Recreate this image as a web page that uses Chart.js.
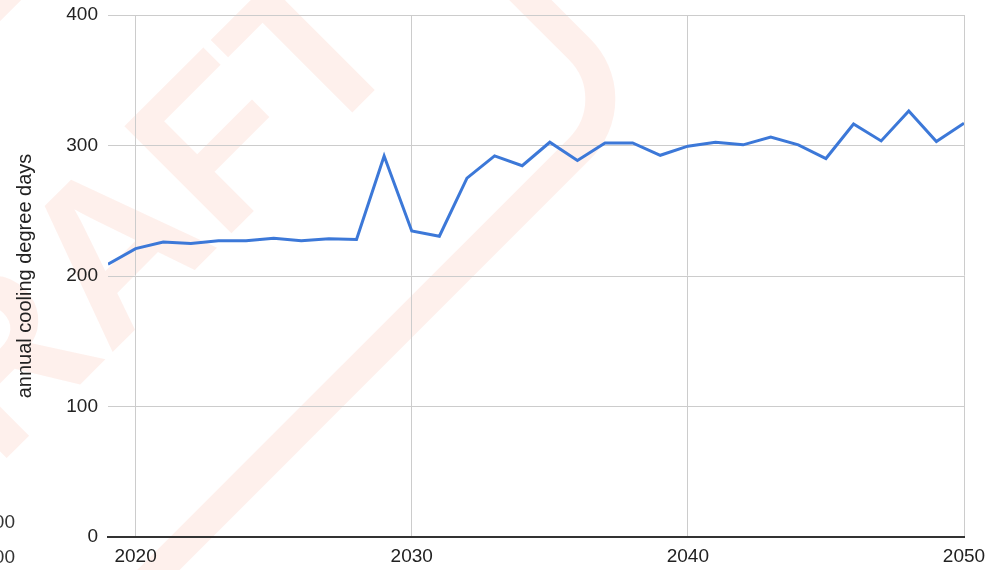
<!DOCTYPE html>
<html lang="en">
<head>
    <meta charset="UTF-8">
    <title>Annual cooling degree days</title>
    <script src="https://cdn.jsdelivr.net/npm/chart.js"></script>
    <style>
        body {
            margin: 0;
            background: #fff;
        }
        #chartBox {
            width: 1007px;
            height: 570px;
        }
    </style>
</head>
<body>
    <div id="chartBox">
        <canvas id="cddChart"></canvas>
    </div>

    <script>
        // yearly series
        const years = [2019, 2020, 2021, 2022, 2023, 2024, 2025, 2026, 2027, 2028,
                       2029, 2030, 2031, 2032, 2033, 2034, 2035, 2036, 2037, 2038,
                       2039, 2040, 2041, 2042, 2043, 2044, 2045, 2046, 2047, 2048,
                       2049, 2050];
        const coolingDegreeDays = [209, 221, 226, 225, 227, 227, 229, 227, 228.5, 228,
                                   292, 234.5, 230.5, 275, 292, 284.5, 302.5, 288.5, 302, 302,
                                   292.5, 299.5, 302.5, 300.5, 306.5, 300.5, 290, 316.5, 303.5, 326.5,
                                   303, 317];
        const yearTicks = [2020, 2030, 2040, 2050];
        const valueTicks = [0, 100, 200, 300, 400];

        const labelFont = { family: 'Arial, "Liberation Sans", sans-serif', size: 19 };

        // faint "DRAFT" stamp behind the plot, plus clipped labels on the left edge
        const stampPlugin = {
            id: 'stamp',
            beforeDraw(chart) {
                const ctx = chart.ctx;
                ctx.save();
                ctx.rotate(-Math.PI / 4);
                ctx.fillStyle = 'rgba(245, 110, 70, 0.10)';
                ctx.strokeStyle = 'rgba(245, 110, 70, 0.10)';
                ctx.font = 'bold 220px Arial, "Liberation Sans", sans-serif';
                ctx.textAlign = 'center';
                ctx.textBaseline = 'middle';
                ctx.fillText('DRAFT', -120, 268);
                ctx.lineWidth = 30;
                ctx.beginPath();
                ctx.roundRect(-700, 0, 1075, 515, 70);
                ctx.stroke();
                ctx.restore();
            },
            afterDraw(chart) {
                const ctx = chart.ctx;
                ctx.save();
                ctx.fillStyle = '#333';
                ctx.font = '19px Arial, "Liberation Sans", sans-serif';
                ctx.textAlign = 'right';
                ctx.textBaseline = 'middle';
                ctx.fillText('000', 15, 523);
                ctx.fillText('000', 15, 558);
                ctx.restore();
            }
        };

        const ctx = document.getElementById('cddChart').getContext('2d');
        const cddChart = new Chart(ctx, {
            type: 'line',
            data: {
                datasets: [{
                    label: 'annual cooling degree days',
                    data: years.map((y, i) => ({ x: y, y: coolingDegreeDays[i] })),
                    borderColor: '#3c78d8',
                    borderWidth: 3,
                    pointRadius: 0,
                    tension: 0,
                    fill: false
                }]
            },
            options: {
                responsive: true,
                maintainAspectRatio: false,
                animation: false,
                layout: {
                    padding: { top: 15, right: 43, bottom: 0, left: 0 }
                },
                plugins: {
                    legend: { display: false },
                    tooltip: { enabled: false }
                },
                scales: {
                    x: {
                        type: 'linear',
                        min: years[0],
                        max: years[years.length - 1],
                        afterBuildTicks: scale => {
                            scale.ticks = yearTicks.map(v => ({ value: v }));
                        },
                        afterFit: scale => {
                            scale.height = 33;
                            scale.paddingLeft = 0;
                            scale.paddingRight = 0;
                        },
                        ticks: {
                            color: '#222',
                            font: labelFont,
                            padding: 8,
                            maxRotation: 0,
                            autoSkip: false,
                            callback: v => String(v)
                        },
                        grid: { color: '#cccccc', drawTicks: false },
                        border: { color: '#333', width: 2 }
                    },
                    y: {
                        min: valueTicks[0],
                        max: valueTicks[valueTicks.length - 1],
                        afterBuildTicks: scale => {
                            scale.ticks = valueTicks.map(v => ({ value: v }));
                        },
                        afterFit: scale => {
                            scale.width = 108;
                            scale.paddingTop = 0;
                            scale.paddingBottom = 0;
                        },
                        ticks: {
                            color: '#222',
                            font: labelFont,
                            padding: 10
                        },
                        grid: { color: '#cccccc', drawTicks: false },
                        border: { display: false },
                        title: {
                            display: true,
                            text: 'annual cooling degree days',
                            color: '#222',
                            font: { family: labelFont.family, size: 20 },
                            padding: { top: 13, bottom: 0 }
                        }
                    }
                }
            },
            plugins: [stampPlugin]
        });
    </script>
</body>
</html>
